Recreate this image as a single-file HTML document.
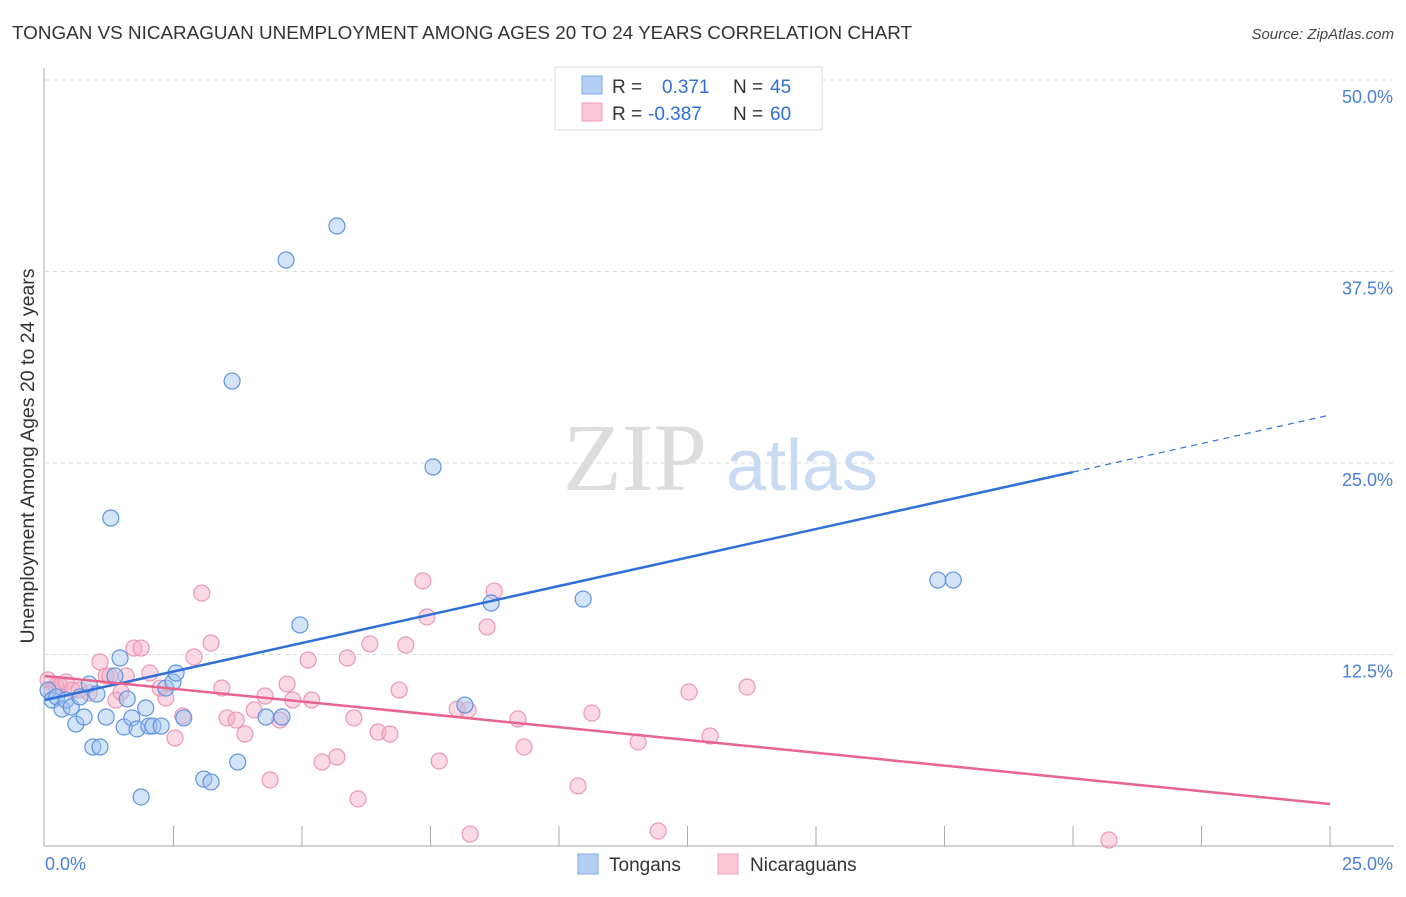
<!DOCTYPE html>
<html><head><meta charset="utf-8"><style>
body{margin:0;background:#fff;font-family:"Liberation Sans",sans-serif}
</style></head><body>
<svg id="chart" width="1406" height="892" xmlns="http://www.w3.org/2000/svg" style="font-family:'Liberation Sans',sans-serif">
<text x="12" y="39" font-size="18.5" fill="#333" textLength="900" lengthAdjust="spacingAndGlyphs">TONGAN VS NICARAGUAN UNEMPLOYMENT AMONG AGES 20 TO 24 YEARS CORRELATION CHART</text>
<text x="1394" y="39" font-size="15" fill="#444" font-style="italic" text-anchor="end">Source: ZipAtlas.com</text>
<g id="grid"></g>
<g>
<text x="635" y="490" font-size="96" fill="#ddd" text-anchor="middle" font-family="Liberation Serif,serif">ZIP</text>
<text x="802" y="490" font-size="72" fill="#c9daf3" text-anchor="middle">atlas</text>
</g>
<line x1="44" y1="68" x2="44" y2="846" stroke="#aaa"/>
<line x1="44" y1="846" x2="1394" y2="846" stroke="#aaa"/>
<g id="ticks"></g>
<g id="ylabels"></g>
<text x="45" y="870" font-size="18" fill="#4a7fd8">0.0%</text>
<text x="1393" y="870" font-size="18" fill="#4a7fd8" text-anchor="end">25.0%</text>
<text transform="translate(34,456) rotate(-90)" font-size="19.5" fill="#333" text-anchor="middle">Unemployment Among Ages 20 to 24 years</text>
<g id="pink"></g>
<g id="blue"></g>
<g id="trends"></g>
<g>
<rect x="555" y="67" width="267" height="63" fill="#fff" stroke="#ddd"/>
<rect x="582" y="76" width="20" height="18" fill="#b5d0f5" stroke="#7fa8e6"/>
<rect x="582" y="103" width="20" height="18" fill="#fbc8d6" stroke="#ef9cb6"/>
<text x="612" y="93" font-size="19" fill="#333">R =</text>
<text x="662" y="93" font-size="19" fill="#2f6fd6">0.371</text>
<text x="733" y="93" font-size="19" fill="#333">N =</text>
<text x="770" y="93" font-size="19" fill="#2f6fd6">45</text>
<text x="612" y="120" font-size="19" fill="#333">R =</text>
<text x="648" y="120" font-size="19" fill="#2f6fd6">-0.387</text>
<text x="733" y="120" font-size="19" fill="#333">N =</text>
<text x="770" y="120" font-size="19" fill="#2f6fd6">60</text>
</g>
<g>
<rect x="578" y="854" width="20" height="20" fill="#b5d0f5" stroke="#7fa8e6"/>
<text x="609" y="871" font-size="19" fill="#333">Tongans</text>
<rect x="718" y="854" width="20" height="20" fill="#fbc8d6" stroke="#ef9cb6"/>
<text x="750" y="871" font-size="19" fill="#333">Nicaraguans</text>
</g>
</svg>
<script>
const yTicks=[12.5,25,37.5,50];
const yTickLabels=["12.5%","25.0%","37.5%","50.0%"];
const xTicks=[2.5,5,7.5,10,12.5,15,17.5,20,22.5,25];
const blueX=[0.06,0.14,0.23,0.33,0.41,0.51,0.60,0.68,0.76,0.86,0.93,1.01,1.07,1.19,1.28,1.36,1.46,1.54,1.60,1.69,1.79,1.87,1.96,2.02,2.10,2.26,2.35,2.49,2.55,2.70,3.09,3.23,3.64,3.75,4.30,4.61,4.69,4.96,5.68,7.55,8.17,8.68,10.47,17.37,17.67];
const blueY=[10.18,9.53,9.73,8.94,9.53,9.07,7.96,9.73,8.42,10.57,6.46,9.92,6.46,8.42,21.41,11.10,12.27,7.77,9.60,8.36,7.64,3.20,9.01,7.83,7.83,7.83,10.31,10.70,11.29,8.36,4.37,4.18,30.35,5.48,8.42,8.42,38.25,14.43,40.47,24.74,9.20,15.86,16.12,17.36,17.36];
const pinkX=[0.06,0.14,0.21,0.29,0.41,0.53,0.66,0.86,1.07,1.19,1.26,1.38,1.48,1.58,1.73,1.87,2.04,2.24,2.35,2.68,2.53,2.90,3.05,3.23,3.44,3.54,3.72,3.89,4.07,4.28,4.38,4.57,4.71,4.82,5.12,5.19,5.39,5.68,5.88,6.01,6.09,6.32,6.48,6.71,6.89,7.02,7.35,7.43,7.67,8.02,8.23,8.27,8.60,8.74,9.20,9.32,10.37,10.64,11.54,11.93,12.53,12.94,13.66,20.70];
const pinkY=[10.84,10.18,10.44,10.44,10.70,10.18,10.18,9.99,12.01,11.10,11.10,9.53,10.05,11.10,12.92,12.92,11.29,10.31,9.66,8.49,7.05,12.34,16.51,13.25,10.31,8.36,8.22,7.31,8.88,9.79,4.31,8.22,10.57,9.53,12.14,9.53,5.48,5.81,12.27,8.36,3.07,13.19,7.44,7.31,10.18,13.12,17.30,14.95,5.55,8.94,8.88,0.78,14.30,16.64,8.29,6.46,3.92,8.68,6.79,0.98,10.05,7.18,10.38,0.39];
const blueTrend=[9.53,24.41,28.13];
const blueTrendX=[0,20,25];
const pinkTrend=[11.10,2.74];
const pinkTrendX=[0,25];
const NS="http://www.w3.org/2000/svg";
const sx=v=>45+v*51.4, sy=v=>846-v*15.32;
function mk(t,a,p){const e=document.createElementNS(NS,t);for(const k in a)e.setAttribute(k,a[k]);document.getElementById(p).appendChild(e);return e;}
yTicks.forEach((t,i)=>{
 const l=mk('line',{x1:45,x2:1394,y1:sy(t),y2:sy(t),stroke:'#ddd','stroke-dasharray':'4,4'},'grid');
 
 
 const tx=mk('text',{x:1393,y:sy(t)+23,'font-size':18,fill:'#4a7fd8','text-anchor':'end'},'ylabels');
 tx.textContent=yTickLabels[i];
 
 
});
xTicks.forEach(t=>{
 const l=mk('line',{x1:sx(t),x2:sx(t),y1:826,y2:846,stroke:'#aaa'},'ticks');
 
 
});
pinkX.forEach((x,i)=>{
 const c=mk('circle',{cx:sx(x),cy:sy(pinkY[i]),r:8,fill:'rgba(245,170,195,0.45)',stroke:'#eb98b3','stroke-width':1.2},'pink');
 
 
});
blueX.forEach((x,i)=>{
 const c=mk('circle',{cx:sx(x),cy:sy(blueY[i]),r:8,fill:'rgba(160,195,240,0.45)',stroke:'#5f93e0','stroke-width':1.2},'blue');
 
 
});
const b1=mk('line',{x1:sx(blueTrendX[0]),y1:sy(blueTrend[0]),x2:sx(blueTrendX[1]),y2:sy(blueTrend[1]),stroke:'#2f6fd6','stroke-width':2.5},'trends');


const b2=mk('line',{x1:sx(blueTrendX[1]),y1:sy(blueTrend[1]),x2:sx(blueTrendX[2]),y2:sy(blueTrend[2]),stroke:'#2f6fd6','stroke-width':1.2,'stroke-dasharray':'6,5'},'trends');


const p1=mk('line',{x1:sx(pinkTrendX[0]),y1:sy(pinkTrend[0]),x2:sx(pinkTrendX[1]),y2:sy(pinkTrend[1]),stroke:'#e8648f','stroke-width':2.5},'trends');


</script>
</body></html>
